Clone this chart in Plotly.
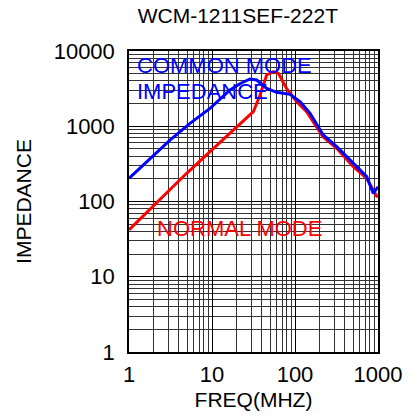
import plotly.graph_objects as go

# Data
freq_common = [1, 3.12, 5.43, 9.46, 16.5, 22, 28.7, 34.5, 45.6, 60.2, 87.1, 115, 152, 219, 318, 502, 731, 878, 1000]
z_common = [203, 656, 1094, 1730, 3032, 3700, 4245, 4120, 3190, 2825, 2655, 2120, 1486, 765, 535, 322, 214, 128, 157]

freq_normal = [1, 4.95, 12.5, 23.8, 31.5, 37.9, 45.6, 54.8, 63, 79, 105, 138, 217, 318, 504, 731, 964, 1000]
z_normal = [42, 237, 610, 1150, 1560, 2600, 4800, 5310, 5060, 3190, 2120, 1560, 726, 509, 290, 203, 118, 120]

x_ticks = [1, 10, 100, 1000]
x_ticktext = ["1", "10", "100", "1000"]
y_ticks = [1, 10, 100, 1000, 10000]
y_ticktext = ["1", "10", "100", "1000", "10000"]

FONT = "Liberation Sans, Arial, sans-serif"

fig = go.Figure()
fig.add_trace(go.Scatter(x=freq_normal, y=z_normal, mode="lines",
                         line=dict(color="#ff0000", width=3), showlegend=False))
fig.add_trace(go.Scatter(x=freq_common, y=z_common, mode="lines",
                         line=dict(color="#0000ff", width=3), showlegend=False))

axis_common = dict(
    type="log", showline=True, linecolor="black", linewidth=1.5, mirror=True,
    showgrid=True, gridcolor="black", gridwidth=1,
    minor=dict(dtick="D1", showgrid=True, gridcolor="#333333", gridwidth=1, ticks=""),
    ticks="", zeroline=False, automargin=False,
    tickfont=dict(family=FONT, size=22, color="black"),
)

fig.update_xaxes(**axis_common, range=[0, 3], tickvals=x_ticks, ticktext=x_ticktext,
                 ticklabelstandoff=2,
                 title=dict(text="FREQ(MHZ)", font=dict(family=FONT, size=21, color="black"), standoff=6))
fig.update_yaxes(**axis_common, range=[0, 4], tickvals=y_ticks, ticktext=y_ticktext,
                 ticklabelstandoff=8,
                 title=dict(text="IMPEDANCE", font=dict(family=FONT, size=21, color="black"), standoff=16))

fig.add_annotation(xref="paper", yref="paper", x=0.024, y=0.953, text="COMMON MODE",
                   showarrow=False, xanchor="left", yanchor="middle",
                   font=dict(family=FONT, size=22, color="#0000ff"))
fig.add_annotation(xref="paper", yref="paper", x=0.024, y=0.867, text="IMPEDANCE",
                   showarrow=False, xanchor="left", yanchor="middle",
                   font=dict(family=FONT, size=22, color="#0000ff"))
fig.add_annotation(xref="paper", yref="paper", x=0.104, y=0.409, text="NORMAL MODE",
                   showarrow=False, xanchor="left", yanchor="middle",
                   font=dict(family=FONT, size=22, color="#ff0000"))

fig.update_layout(
    width=418, height=416,
    margin=dict(l=129, r=40, t=51, b=64, autoexpand=False),
    paper_bgcolor="white", plot_bgcolor="white",
    title=dict(text="WCM-1211SEF-222T", x=0.569, xanchor="center", y=0.9615, yanchor="middle",
               font=dict(family=FONT, size=21, color="black")),
)

fig.write_html("out.html", config={"displayModeBar": False},
               post_script="document.body.style.margin='0';")
